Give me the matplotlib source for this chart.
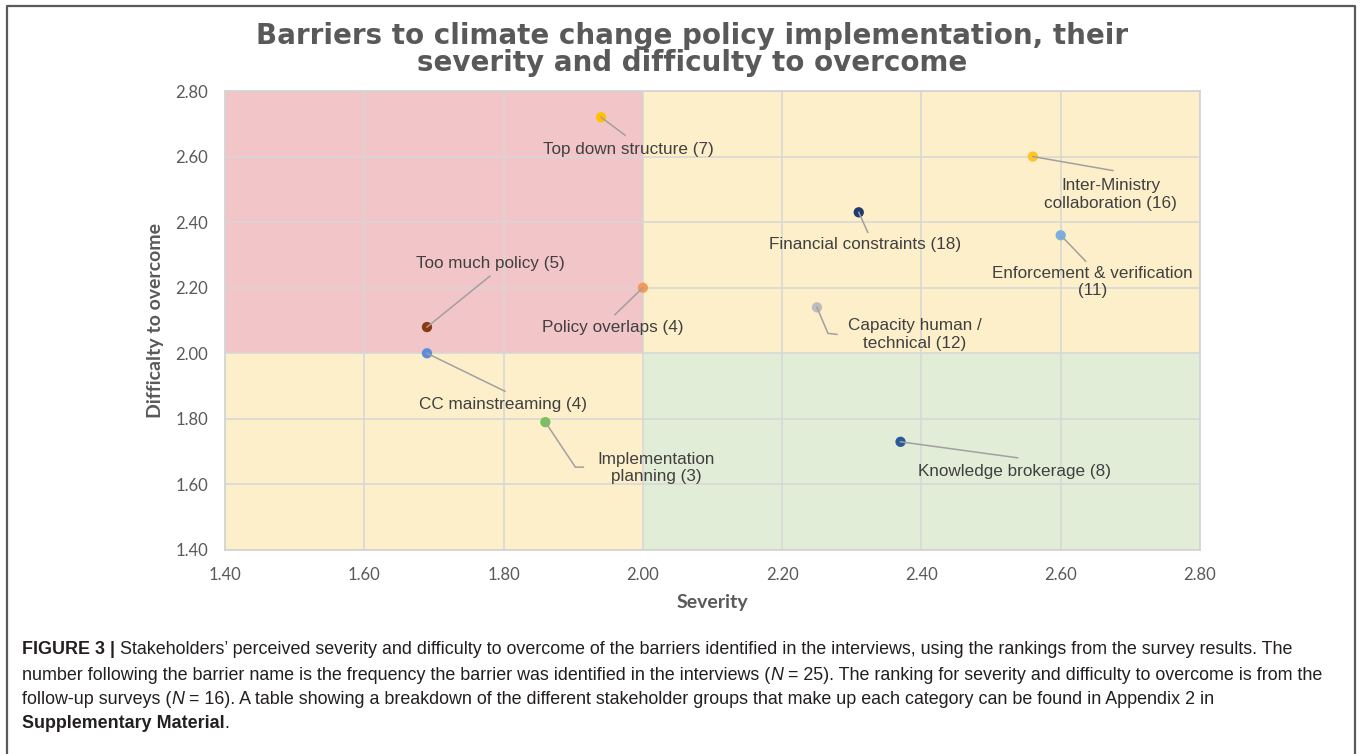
import matplotlib
matplotlib.use("Agg")
import matplotlib.pyplot as plt
from matplotlib.patches import Rectangle
from matplotlib.transforms import IdentityTransform

# barrier data
labels = ["Top down structure (7)", "Inter-Ministry\ncollaboration (16)",
          "Financial constraints (18)", "Enforcement & verification\n(11)",
          "Too much policy (5)", "Policy overlaps (4)",
          "Capacity human /\ntechnical (12)", "CC mainstreaming (4)",
          "Implementation\nplanning (3)", "Knowledge brokerage (8)"]
severity = [1.94, 2.56, 2.31, 2.60, 1.69, 2.00, 2.25, 1.69, 1.86, 2.37]
difficulty = [2.72, 2.60, 2.43, 2.36, 2.08, 2.20, 2.14, 2.00, 1.79, 1.73]
ticks = [1.40, 1.60, 1.80, 2.00, 2.20, 2.40, 2.60, 2.80]
threshold = 2.00

# styling (kept apart from the data)
colors = ["#FFC000", "#FFC425", "#1F3A6E", "#7AAFE2", "#8B3A0F",
          "#F29A58", "#BDBDBD", "#5B8DDB", "#78C25E", "#2A5A9B"]
# label centre offsets in pixels from the point (x right, y up)
label_off = [(27, -32), (78, -38), (6, -32), (32, -47), (63, 64),
             (-30, -40), (98, -27), (76, -51), (111, -46), (114, -30)]
# leader line vertices in pixels from the point
leaders = [[(24, -18)], [(80, -14)], [(9, -20)], [(25, -26)], [(63, 51)],
           [(-28, -27)], [(11, -26), (20, -27)], [(78, -38)],
           [(30, -45), (38, -45)], [(117, -16)]]

W, H = 1360, 754
fig = plt.figure(figsize=(13.6, 7.54), dpi=100)
ax = fig.add_axes([225 / W, 1 - 550 / H, 975 / W, 459 / H])
lo, hi = ticks[0], ticks[-1]
ax.set_xlim(lo, hi)
ax.set_ylim(lo, hi)

red, yellow, green = "#F2C6C8", "#FDEFCA", "#E2EDD7"
ax.add_patch(Rectangle((lo, threshold), threshold - lo, hi - threshold, color=red, zorder=0.5, lw=0))
ax.add_patch(Rectangle((threshold, threshold), hi - threshold, hi - threshold, color=yellow, zorder=0.5, lw=0))
ax.add_patch(Rectangle((lo, lo), threshold - lo, threshold - lo, color=yellow, zorder=0.5, lw=0))
ax.add_patch(Rectangle((threshold, lo), hi - threshold, threshold - lo, color=green, zorder=0.5, lw=0))

ax.set_xticks(ticks)
ax.set_yticks(ticks)
ax.set_xticklabels(["%.2f" % t for t in ticks])
ax.set_yticklabels(["%.2f" % t for t in ticks])
ax.grid(True, color="#D6D6D6", lw=1.3, alpha=0.85)
ax.tick_params(length=0, labelsize=12, labelcolor="#595959")
ax.tick_params(axis="y", pad=12)
ax.tick_params(axis="x", pad=12)
for t in ax.get_xticklabels() + ax.get_yticklabels():
    t.set_fontfamily("Lato")
for s in ax.spines.values():
    s.set_color("#D4D4D4")
    s.set_linewidth(1.3)

ax.scatter(severity, difficulty, s=55, c=colors, zorder=4, linewidths=0)

# leader lines and labels, positioned in pixels around each point
for i in range(len(labels)):
    px, py = ax.transData.transform((severity[i], difficulty[i]))
    xs = [px] + [px + dx for dx, dy in leaders[i]]
    ys = [py] + [py + dy for dx, dy in leaders[i]]
    fig.add_artist(plt.Line2D(xs, ys, transform=IdentityTransform(),
                              color="#A0A0A0", lw=1.1, zorder=3))
    ax.annotate(labels[i], xy=(severity[i], difficulty[i]), xytext=label_off[i],
                textcoords="offset pixels", ha="center", va="center",
                fontsize=12.3, color="#404040", family="Liberation Sans",
                linespacing=1.2, zorder=5)

ax.set_xlabel("Severity", fontsize=14, fontweight="bold", color="#595959", family="Lato", labelpad=8)
ax.set_ylabel("Difficalty to overcome", fontsize=14, fontweight="bold", color="#595959", family="Lato", labelpad=8)

fig.text(692 / W, 1 - 36 / H, "Barriers to climate change policy implementation, their",
         ha="center", va="center", fontsize=20, fontweight="bold", color="#595959", family="DejaVu Sans")
fig.text(692 / W, 1 - 63 / H, "severity and difficulty to overcome",
         ha="center", va="center", fontsize=20, fontweight="bold", color="#595959", family="DejaVu Sans")

# outer frame (left, top, right)
fig.add_artist(plt.Line2D([7 / W, 7 / W, 1355 / W, 1355 / W], [0, 1 - 6 / H, 1 - 6 / H, 0],
                          transform=fig.transFigure, color="#5A5A5A", lw=1.6))

# caption with mixed styles
caption = [
    [("FIGURE 3 |", "bold", "normal"),
     (" Stakeholders\u2019 perceived severity and difficulty to overcome of the barriers identified in the interviews, using the rankings from the survey results. The", "normal", "normal")],
    [("number following the barrier name is the frequency the barrier was identified in the interviews (", "normal", "normal"),
     ("N", "normal", "italic"),
     (" = 25). The ranking for severity and difficulty to overcome is from the", "normal", "normal")],
    [("follow-up surveys (", "normal", "normal"), ("N", "normal", "italic"),
     (" = 16). A table showing a breakdown of the different stakeholder groups that make up each category can be found in Appendix 2 in", "normal", "normal")],
    [("Supplementary Material", "bold", "normal"), (".", "normal", "normal")],
]
cap_y = [650, 675, 700, 724]
renderer = fig.canvas.get_renderer()
for line, yy in zip(caption, cap_y):
    x = 22
    for txt, wt, st in line:
        t = fig.text(x / W, 1 - yy / H, txt, ha="left", va="center", fontsize=12.85,
                     fontweight=wt, style=st, color="#231F20", family="Liberation Sans")
        x += t.get_window_extent(renderer).width

fig.savefig("out.png", dpi=100)
